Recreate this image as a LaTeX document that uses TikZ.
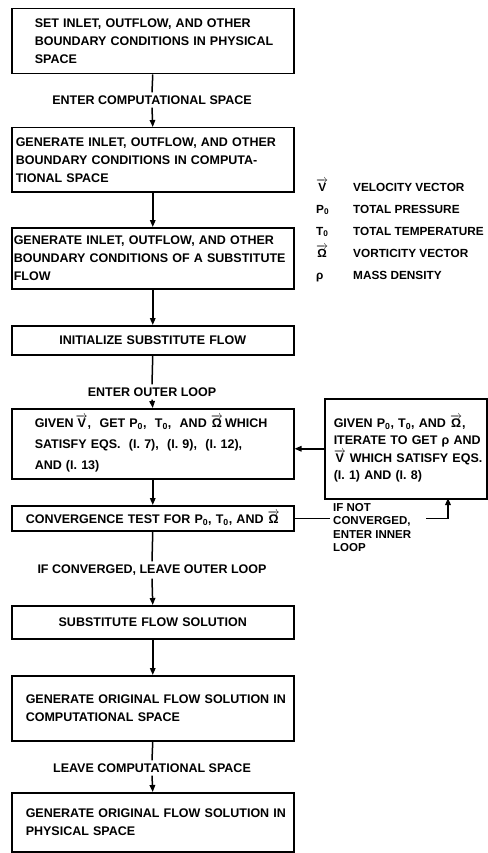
\documentclass[tikz,border=0pt]{standalone}
\usepackage{fontspec}
\setmainfont{Liberation Sans}
\usetikzlibrary{arrows.meta,positioning}
\newcommand{\boxfont}{\fontsize{12.5}{18}\selectfont\bfseries}
\newcommand{\notefont}{\fontsize{11.5}{13.5}\selectfont\bfseries}
\newcommand{\legfont}{\fontsize{11.8}{14}\selectfont\bfseries}
\newcommand{\vecsym}[1]{\ensuremath{\overrightarrow{\mbox{#1}}}}
\newcommand{\boxtext}[2]{\leftskip=#1\relax #2\par}

\tikzset{
  flowbox/.style={draw,line width=1.5pt,anchor=north west,minimum width=282pt,font=\boxfont,
    inner xsep=2pt,text width=278pt,align=left},
  flowlabel/.style={font=\boxfont,inner sep=3pt},
  flowline/.style={line width=1.5pt},
  flowarrow/.style={line width=1.5pt,-{Triangle[length=7pt,width=5.5pt]}},
  legsym/.style={font=\legfont,anchor=base west,inner sep=0pt},
  legtxt/.style={font=\legfont,anchor=base west,inner sep=0pt},
}

\begin{document}
\begin{tikzpicture}[x=1pt,y=-1pt]
\useasboundingbox (0,0) rectangle (487,853);

% main column
\node[flowbox,minimum height=65pt] (physbc) at (11,8)
  {\boxtext{21pt}{SET INLET, OUTFLOW, AND OTHER\\BOUNDARY CONDITIONS IN PHYSICAL\\SPACE}};
\node[flowlabel] (entercomp) at (152,100) {ENTER COMPUTATIONAL SPACE};
\node[flowbox,minimum height=64pt] (compbc) at (11,127)
  {\boxtext{2pt}{GENERATE INLET, OUTFLOW, AND OTHER\\BOUNDARY CONDITIONS IN COMPUTA-\\TIONAL SPACE}};
\node[flowbox,minimum height=61pt] (subbc) at (11,227)
  {GENERATE INLET, OUTFLOW, AND OTHER\\BOUNDARY CONDITIONS OF A SUBSTITUTE\\FLOW};
\node[flowbox,minimum height=29pt,align=center] (init) at (11,325)
  {INITIALIZE SUBSTITUTE FLOW};
\node[flowlabel] (enterouter) at (152,392) {ENTER OUTER LOOP};
\node[flowbox,minimum height=70pt,font=\fontsize{12.5}{21}\selectfont\bfseries] (given) at (11,408)
  {\boxtext{21pt}{GIVEN\,\vecsym{V}, \ GET P\textsubscript{0}, \ T\textsubscript{0}, \ AND \vecsym{Ω}\,WHICH\\SATISFY EQS. \ (I. 7), \ (I. 9), \ (I. 12),\\AND (I. 13)}};
\node[flowbox,minimum height=25pt,align=center] (conv) at (11,505)
  {CONVERGENCE TEST FOR P\textsubscript{0}, T\textsubscript{0}, AND \vecsym{Ω}};
\node[flowlabel] (leaveouter) at (152,570) {IF CONVERGED, LEAVE OUTER LOOP};
\node[flowbox,minimum height=33pt,align=center] (subsol) at (11,605)
  {SUBSTITUTE FLOW SOLUTION};
\node[flowbox,minimum height=65pt] (compsol) at (11,675)
  {\boxtext{12pt}{GENERATE ORIGINAL FLOW SOLUTION IN\\COMPUTATIONAL SPACE}};
\node[flowlabel] (leavecomp) at (152,768) {LEAVE COMPUTATIONAL SPACE};
\node[flowbox,minimum height=59pt] (physsol) at (11,792)
  {\boxtext{12pt}{GENERATE ORIGINAL FLOW SOLUTION IN\\PHYSICAL SPACE}};

% inner loop
\node[flowbox,minimum width=162pt,minimum height=100pt,text width=158pt,font=\fontsize{12.5}{17.5}\selectfont\bfseries] (iterate) at (324,398)
  {\boxtext{7pt}{GIVEN P\textsubscript{0}, T\textsubscript{0}, AND \vecsym{Ω},\\ITERATE TO GET ρ AND\\\vecsym{V} WHICH SATISFY EQS.\\(I. 1) AND (I. 8)}};
\node[font=\notefont,anchor=north west,inner sep=3pt,align=left] (notconv) at (330,500)
  {IF NOT\\CONVERGED,\\ENTER INNER\\LOOP};
\coordinate (innerfoot) at (448,498);

% legend
\foreach \sym/\desc [count=\i] in {{\vecsym{V}}/VELOCITY VECTOR,{P\textsubscript{0}}/TOTAL PRESSURE,{T\textsubscript{0}}/TOTAL TEMPERATURE,{\vecsym{Ω}}/VORTICITY VECTOR,{ρ}/MASS DENSITY}{
  \node[legsym] (legsym\i) at (316,{169+22*\i}) {\sym};
  \node[legtxt] (legtxt\i) at (353,{169+22*\i}) {\desc};
}

% connectors
\draw[flowline] (physbc.south) -- (entercomp.north);
\draw[flowarrow] (entercomp.south) -- (compbc.north);
\draw[flowarrow] (compbc.south) -- (subbc.north);
\draw[flowarrow] (subbc.south) -- (init.north);
\draw[flowline] (init.south) -- (enterouter.north);
\draw[flowarrow] (enterouter.south) -- (given.north);
\draw[flowarrow] (given.south) -- (conv.north);
\draw[flowline] (conv.south) -- (leaveouter.north);
\draw[flowarrow] (leaveouter.south) -- (subsol.north);
\draw[flowarrow] (subsol.south) -- (compsol.north);
\draw[flowline] (compsol.south) -- (leavecomp.north);
\draw[flowarrow] (leavecomp.south) -- (physsol.north);
\draw[flowarrow] (iterate.west) -- (given.east |- iterate.west);
\draw[flowline] (conv.east) -- (notconv.west |- conv.east);
\draw[flowarrow] ([xshift=12pt]notconv.east |- conv.east) -| (innerfoot);
\end{tikzpicture}
\end{document}
